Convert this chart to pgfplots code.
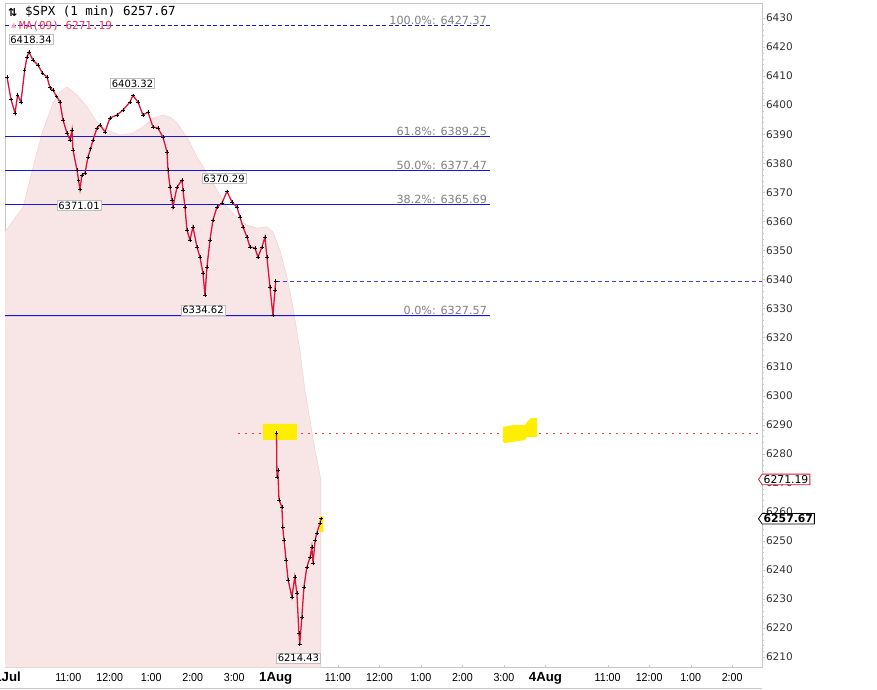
\documentclass[border=0pt]{standalone}
\usepackage{pgfplots}
\pgfplotsset{compat=1.18}
\usepackage{fontspec}
\setmainfont{DejaVu Sans}
\newfontfamily\narrowfont[FakeStretch=0.92]{Liberation Sans}
\newfontfamily\boldlab{Liberation Sans}
\newfontfamily\monofont{DejaVu Sans Mono}
\newfontfamily\djv{DejaVu Sans}
\usetikzlibrary{shapes.symbols}
\definecolor{pricered}{RGB}{220,20,60}
\definecolor{pinkfill}{RGB}{248,229,229}
\definecolor{pinkedge}{RGB}{240,205,205}
\definecolor{fibblue}{RGB}{20,20,235}
\definecolor{closeblue}{RGB}{60,60,240}
\definecolor{fibgray}{RGB}{128,128,128}
\definecolor{hlyellow}{RGB}{255,238,0}
\definecolor{dotred}{RGB}{255,60,60}
\definecolor{framegray}{RGB}{200,200,200}
\definecolor{malabel}{RGB}{225,50,85}
\definecolor{maicon}{RGB}{240,170,180}

\pgfplotstableread{
t p
0.024 6409.7
0.12 6402.0
0.217 6397.3
0.28 6403.5
0.36 6401.0
0.45 6412.0
0.506 6416.6
0.554 6418.3
0.651 6415.5
0.771 6413.8
0.88 6411.0
0.988 6409.7
1.06 6406.0
1.133 6405.2
1.22 6403.0
1.301 6401.1
1.373 6394.9
1.470 6390.4
1.542 6388.0
1.590 6391.4
1.614 6384.6
1.711 6377.7
1.75 6374.0
1.783 6371.0
1.83 6376.0
1.904 6376.6
1.976 6382.2
2.04 6385.0
2.096 6388.0
2.193 6392.1
2.265 6393.2
2.386 6390.8
2.506 6395.6
2.675 6396.6
2.819 6398.3
2.988 6401.1
3.060 6403.3
3.181 6401.1
3.301 6396.6
3.422 6397.6
3.542 6392.5
3.663 6392.1
3.783 6389.0
3.880 6383.9
3.904 6377.7
3.952 6371.8
4.000 6367.4
4.024 6364.9
4.120 6371.8
4.241 6374.2
4.265 6370.8
4.313 6364.9
4.361 6357.0
4.434 6353.6
4.506 6358.1
4.602 6351.2
4.675 6347.7
4.747 6342.2
4.795 6334.6
4.843 6344.3
4.916 6353.6
4.988 6360.5
5.084 6364.9
5.205 6366.3
5.325 6370.3
5.446 6366.7
5.566 6364.9
5.639 6361.5
5.711 6358.1
5.807 6354.6
5.880 6351.2
6.000 6350.8
6.072 6347.7
6.169 6351.2
6.241 6354.6
6.289 6347.7
6.361 6337.4
6.434 6327.6
6.482 6336.4
6.50 6339.4
}\dayone

\pgfplotstableread{
t p
6.52 6287.1
6.53 6272.0
6.55 6274.4
6.58 6264.1
6.65 6261.7
6.67 6254.8
6.70 6250.3
6.75 6243.4
6.80 6236.5
6.89 6230.7
6.96 6237.6
7.01 6232.1
7.06 6218.3
7.08 6214.4
7.13 6223.8
7.18 6234.1
7.25 6241.0
7.33 6244.5
7.37 6247.9
7.40 6242.4
7.45 6250.3
7.49 6252.7
7.57 6256.2
7.59 6257.7
}\daytwo

\pgfplotstableread{
t p
-0.03 6200
-0.03 6356.3
0.41 6364.9
0.651 6378.7
0.892 6391.4
1.133 6400.7
1.301 6404.5
1.470 6406.2
1.711 6403.5
1.952 6399.4
2.193 6394.2
2.434 6391.4
2.747 6389.7
3.060 6390.4
3.301 6392.5
3.542 6395.6
3.783 6396.6
3.952 6395.9
4.120 6393.9
4.361 6389.0
4.602 6382.2
4.843 6376.6
5.084 6370.8
5.325 6364.9
5.566 6361.5
5.807 6358.7
6.048 6357.7
6.289 6358.1
6.434 6356.3
6.602 6350.1
6.771 6340.8
6.916 6330.5
7.084 6315.7
7.205 6301.9
7.325 6291.6
7.446 6281.3
7.59 6271.0
7.59 6200
}\maarea

\begin{document}
\begin{tikzpicture}
\useasboundingbox (-5pt,-21.5pt) rectangle (872pt,667.5pt);
\begin{axis}[
  scale only axis, width=757pt, height=664.2pt,
  xmin=-0.024, xmax=18.22, ymin=6206.44, ymax=6435.06,
  axis line style={draw=framegray},
  clip=true,
  xtick={1.5,2.5,3.5,4.5,5.5,6.5,8,9,10,11,12,13,14.5,15.5,16.5,17.5},
  xticklabels={11:00,12:00,1:00,2:00,3:00,{\boldlab\bfseries\fontsize{13.2}{14}\selectfont 1Aug},11:00,12:00,1:00,2:00,3:00,{\boldlab\bfseries\fontsize{13.2}{14}\selectfont 4Aug},11:00,12:00,1:00,2:00},
  xtick pos=bottom, xtick align=inside,
  x tick style={draw=framegray},
  major tick length=2.5pt, minor tick length=1.5pt,
  xticklabel style={font=\narrowfont\fontsize{11.6}{13}\selectfont, text=black, anchor=base, yshift=-14pt},
  ytick={6210,6220,...,6430},
  minor y tick num=4,
  ytick pos=right, yticklabel pos=right, ytick align=outside,
  y tick style={draw=framegray},
  yticklabel style={font=\djv\fontsize{10.5}{12}\selectfont, text=black!80, anchor=west, xshift=-2pt},
  y tick label style={/pgf/number format/fixed, /pgf/number format/precision=0, /pgf/number format/1000 sep={}, /pgf/number format/assume math mode=true},
  scaled y ticks=false,
]
% MA area
\addplot[fill=pinkfill, draw=pinkedge, line width=0.4pt] table {\maarea} \closedcycle;

% Fibonacci levels
\addplot[color=fibblue, draw=fibblue, solid, line width=1pt] coordinates {(-0.1,6389.25) (11.66,6389.25)};
\addplot[color=fibblue, draw=fibblue, solid, line width=1pt] coordinates {(-0.1,6377.47) (11.66,6377.47)};
\addplot[color=fibblue, draw=fibblue, solid, line width=1pt] coordinates {(-0.1,6365.69) (11.66,6365.69)};
% 0% level as a thin filled band
\addplot[fill=fibblue, draw=none] coordinates {(-0.1,6327.40) (11.66,6327.40) (11.66,6327.74) (-0.1,6327.74) (-0.1,6327.40)};
% 100% level drawn with axis cs
\draw[fibblue, line width=1pt, dash pattern=on 4pt off 2.5pt] (axis cs:-0.024,6427.37) -- (axis cs:11.66,6427.37);
% previous close
\draw[closeblue, line width=1pt, dash pattern=on 4pt off 3pt] (axis cs:6.5,6339.39) -- (axis cs:18.22,6339.39);
% red dotted level
\draw[dotred, line width=1.2pt, dash pattern=on 2.5pt off 4.5pt] (axis cs:5.59,6287.1) -- (axis cs:18.22,6287.1);

% yellow highlights
\addplot[fill=hlyellow, draw=none] coordinates {(6.19,6284.8) (7.01,6284.8) (7.01,6290.3) (6.19,6290.3) (6.19,6284.8)};
\addplot[fill=hlyellow, draw=none] coordinates {(11.976,6289.2) (12.217,6289.9) (12.506,6289.9) (12.578,6291.3) (12.651,6292.3) (12.795,6292.3) (12.795,6285.8) (12.554,6285.8) (12.506,6284.7) (12.024,6283.7) (11.976,6284.1) (11.976,6289.2)};
\addplot[fill=hlyellow, draw=none] coordinates {(7.55,6253.0) (7.65,6253.0) (7.65,6258.5) (7.55,6258.5) (7.55,6253.0)};

% price
\addplot[color=pricered, line width=1.3pt] table {\dayone};
\addplot[only marks, mark=+, mark size=1.8pt, black, line width=0.55pt] table {\dayone};
\addplot[color=pricered, line width=1.3pt] table {\daytwo};
\addplot[only marks, mark=+, mark size=1.8pt, black, line width=0.55pt] table {\daytwo};

% fib labels
\node[anchor=south east, font=\djv\fontsize{11.2}{12}\selectfont, text=fibgray, inner sep=1pt] at (axis cs:11.62,6427.37) {100.0\%: 6427.37};
\node[anchor=south east, font=\djv\fontsize{11.2}{12}\selectfont, text=fibgray, inner sep=1pt] at (axis cs:11.62,6389.25) {61.8\%: 6389.25};
\node[anchor=south east, font=\djv\fontsize{11.2}{12}\selectfont, text=fibgray, inner sep=1pt] at (axis cs:11.62,6377.47) {50.0\%: 6377.47};
\node[anchor=south east, font=\djv\fontsize{11.2}{12}\selectfont, text=fibgray, inner sep=1pt] at (axis cs:11.62,6365.69) {38.2\%: 6365.69};
\node[anchor=south east, font=\djv\fontsize{11.2}{12}\selectfont, text=fibgray, inner sep=1pt] at (axis cs:11.62,6327.57) {0.0\%: 6327.57};

% price labels
\node[font=\djv\fontsize{10}{12}\selectfont, fill=white, draw=black!25, inner sep=1.2pt] at (axis cs:0.602,6422.6) {6418.34};
\node[font=\djv\fontsize{10}{12}\selectfont, fill=white, draw=black!25, inner sep=1.2pt] at (axis cs:3.048,6407.45) {6403.32};
\node[font=\djv\fontsize{10}{12}\selectfont, fill=white, draw=black!25, inner sep=1.2pt] at (axis cs:1.759,6365.46) {6371.01};
\node[font=\djv\fontsize{10}{12}\selectfont, fill=white, draw=black!25, inner sep=1.2pt] at (axis cs:5.253,6374.75) {6370.29};
\node[font=\djv\fontsize{10}{12}\selectfont, fill=white, draw=black!25, inner sep=1.2pt] at (axis cs:4.747,6329.5) {6334.62};
\node[font=\djv\fontsize{10}{12}\selectfont, fill=white, draw=black!25, inner sep=1.2pt] at (axis cs:7.048,6209.7) {6214.43};
\end{axis}
% title
\node[anchor=west, font=\monofont\fontsize{12.5}{14}\selectfont, inner sep=0pt] at (20pt,655.5pt) {\$SPX (1 min) 6257.67};
\node[anchor=west, font=\djv\fontsize{11}{12}\selectfont\bfseries, inner sep=0pt] at (3pt,655.5pt) {⇅};
\node[anchor=west, font=\monofont\fontsize{11}{12}\selectfont, text=malabel, inner sep=0pt] at (14pt,641.5pt) {MA(09) 6271.19};
\node[anchor=west, font=\djv\fontsize{7}{8}\selectfont, text=maicon, inner sep=0pt] at (6pt,641.5pt) {▲};
% right-hand value tags
\node[signal, signal to=west, signal pointer angle=110, draw=pricered, line width=0.8pt, fill=white, font=\djv\fontsize{10.8}{12}\selectfont, inner xsep=1.5pt, inner ysep=1.2pt, anchor=west] at (753pt,188.1pt) {6271.19};
\node[signal, signal to=west, signal pointer angle=110, draw=black, line width=0.8pt, fill=white, font=\djv\fontsize{10.8}{12}\selectfont\bfseries, inner xsep=1.5pt, inner ysep=1.2pt, anchor=west] at (753pt,148.8pt) {6257.67};
% 31Jul label cut at page edge
\node[anchor=base east, font=\boldlab\bfseries\fontsize{13.2}{14}\selectfont, inner sep=0pt] at (16pt,-14pt) {31Jul};
\draw[framegray] (-5pt,-20.5pt) -- (757pt,-20.5pt);
\end{tikzpicture}
\end{document}
